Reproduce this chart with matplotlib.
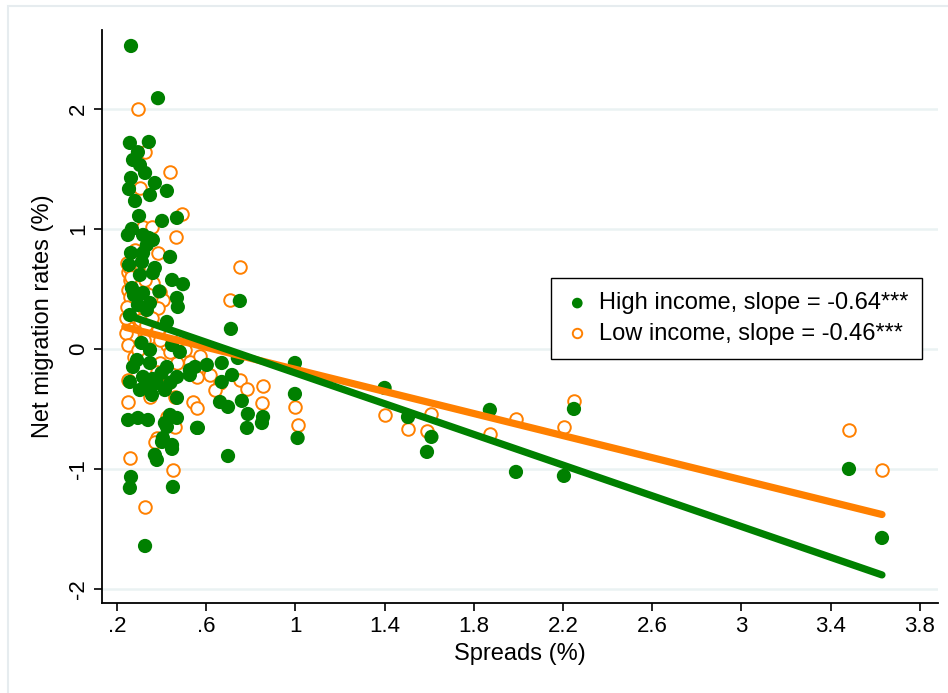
import matplotlib
matplotlib.use("Agg")
from matplotlib import pyplot as plt
from matplotlib.patches import Rectangle

plt.rcParams["font.family"] = ["Liberation Sans", "DejaVu Sans"]

# spreads (%) and net migration rates (%) for high income countries
high_x = [0.263, 0.384, 0.258, 0.343, 0.294, 0.272, 0.303, 0.326, 0.263, 0.370,
          0.254, 0.348, 0.424, 0.281, 0.299, 0.402, 0.469, 0.267, 0.249, 0.343,
          0.317, 0.361, 0.334, 0.263, 0.317, 0.438, 0.312, 0.370, 0.303, 0.361,
          0.447, 0.496, 0.267, 0.317, 0.469, 0.348, 0.294, 0.473, 0.334, 0.424,
          0.258, 0.751, 0.711, 0.348, 0.447, 0.482, 0.290, 0.272, 0.348, 0.424,
          0.527, 0.258, 0.317, 0.379, 0.469, 0.303, 0.357, 0.415, 0.469, 0.250,
          0.294, 0.339, 0.438, 0.424, 0.406, 0.563, 0.447, 0.402, 0.370, 0.379,
          0.447, 0.263, 0.258, 0.451, 0.326, 0.670, 0.603, 0.550, 0.527, 0.716,
          0.670, 0.742, 0.662, 0.698, 0.760, 0.787, 0.855, 0.850, 0.783, 0.559,
          0.469, 0.415, 0.698, 0.998, 0.998, 1.010, 1.400, 1.505, 1.610, 1.590,
          1.872, 1.989, 2.204, 2.249, 3.482, 3.630, 0.254, 0.276, 0.400, 0.360,
          0.330, 0.310, 0.440, 0.390]
high_y = [2.525, 2.090, 1.717, 1.725, 1.640, 1.575, 1.533, 1.467, 1.425, 1.383,
          1.333, 1.283, 1.317, 1.233, 1.108, 1.067, 1.092, 1.000, 0.950, 0.925,
          0.950, 0.908, 0.867, 0.800, 0.800, 0.767, 0.725, 0.675, 0.617, 0.633,
          0.575, 0.540, 0.508, 0.467, 0.425, 0.383, 0.367, 0.350, 0.325, 0.225,
          0.283, 0.400, 0.167, -0.008, 0.033, -0.025, -0.092, -0.150, -0.117, -0.150,
          -0.175, -0.275, -0.233, -0.283, -0.233, -0.342, -0.383, -0.342, -0.408, -0.592,
          -0.575, -0.592, -0.550, -0.650, -0.742, -0.658, -0.800, -0.775, -0.883, -0.925,
          -0.833, -1.067, -1.158, -1.150, -1.642, -0.117, -0.133, -0.150, -0.217, -0.217,
          -0.275, -0.075, -0.442, -0.483, -0.433, -0.542, -0.567, -0.617, -0.658, -0.658,
          -0.575, -0.617, -0.892, -0.117, -0.375, -0.742, -0.325, -0.567, -0.733, -0.858,
          -0.508, -1.025, -1.058, -0.500, -1.000, -1.575, 0.700, 0.450, -0.200, -0.250,
          -0.300, 0.050, -0.280, 0.480]

# spreads (%) and net migration rates (%) for low income countries
low_x = [0.294, 0.326, 0.438, 0.303, 0.491, 0.317, 0.357, 0.465, 0.384, 0.245,
         0.249, 0.258, 0.361, 0.249, 0.393, 0.406, 0.384, 0.258, 0.245, 0.249,
         0.290, 0.267, 0.348, 0.424, 0.276, 0.393, 0.469, 0.527, 0.563, 0.379,
         0.559, 0.428, 0.348, 0.460, 0.249, 0.540, 0.559, 0.424, 0.460, 0.379,
         0.370, 0.258, 0.451, 0.326, 0.751, 0.707, 0.751, 0.783, 0.855, 0.662,
         0.850, 0.998, 1.010, 1.400, 1.505, 1.610, 1.590, 1.872, 1.989, 2.204,
         2.249, 3.482, 3.630, 0.240, 0.276, 0.303, 0.330, 0.357, 0.384, 0.240,
         0.321, 0.393, 0.249, 0.294, 0.438, 0.326, 0.281, 0.294, 0.438, 0.504,
         0.572, 0.617, 0.640, 0.249, 0.255, 0.265]
low_y = [2.000, 1.642, 1.475, 1.342, 1.125, 1.017, 1.017, 0.933, 0.800, 0.717,
         0.642, 0.575, 0.550, 0.492, 0.475, 0.408, 0.342, 0.433, 0.350, 0.183,
         0.158, 0.117, 0.100, 0.033, -0.067, -0.117, -0.117, -0.108, -0.150, -0.192,
         -0.233, -0.283, -0.400, -0.400, -0.442, -0.442, -0.492, -0.567, -0.650, -0.742,
         -0.775, -0.908, -1.008, -1.317, 0.683, 0.408, -0.258, -0.333, -0.308, -0.283,
         -0.450, -0.483, -0.633, -0.550, -0.667, -0.542, -0.683, -0.708, -0.583, -0.650,
         -0.433, -0.675, -1.008, 0.258, 0.275, 0.242, 0.200, 0.258, 0.158, 0.133,
         0.075, 0.075, 0.033, -0.008, 0.117, 0.575, 0.825, 0.675, -0.025, -0.008,
         -0.058, -0.217, -0.342, -0.258, 0.680, 0.600]

# fitted lines
high_slope, high_const = -0.64, 0.44
low_slope, low_const = -0.46, 0.29

x_ticks = [0.2, 0.6, 1.0, 1.4, 1.8, 2.2, 2.6, 3.0, 3.4, 3.8]
x_labels = [".2", ".6", "1", "1.4", "1.8", "2.2", "2.6", "3", "3.4", "3.8"]
y_ticks = [-2, -1, 0, 1, 2]

green = "#008000"
orange = "#FF8000"

fig = plt.figure(figsize=(9.48, 6.93), dpi=100)
fig.patches.append(Rectangle((8 / 948, -0.1), 1.2, 1.1 - 6 / 693, transform=fig.transFigure,
                             fill=False, edgecolor="#E6ECEF", linewidth=1.5))
ax = fig.add_axes([0.1076, 0.1299, 0.8818, 0.8268])

ax.scatter(low_x, low_y, s=82, facecolors="white", edgecolors=orange,
           linewidths=1.4, zorder=2, label="Low income, slope = -0.46***")
ax.scatter(high_x, high_y, s=105, color=green, edgecolors="none", zorder=3,
           label="High income, slope = -0.64***")

lx = [min(low_x), max(low_x)]
hx = [min(high_x), max(high_x)]
ax.plot(lx, [low_const + low_slope * v for v in lx], color=orange, lw=5.2,
        solid_capstyle="round", zorder=4)
ax.plot(hx, [high_const + high_slope * v for v in hx], color=green, lw=5.2,
        solid_capstyle="round", zorder=5)

ax.set_xlim(0.133, 3.881)
ax.set_ylim(-2.117, 2.658)
ax.set_xticks(x_ticks)
ax.set_xticklabels(x_labels)
ax.set_yticks(y_ticks)
ax.set_yticklabels([str(v) for v in y_ticks], rotation=90, va="center")
ax.tick_params(labelsize=16, length=6, width=1.2, color="black")
ax.yaxis.grid(True, color="#EAF2F3", linewidth=1.8)
ax.set_axisbelow(True)
for side in ["top", "right"]:
    ax.spines[side].set_visible(False)
for side in ["left", "bottom"]:
    ax.spines[side].set_linewidth(1.3)

ax.set_xlabel("Spreads (%)", fontsize=17, labelpad=4)
ax.set_ylabel("Net migration rates (%)", fontsize=17, labelpad=10)

handles, labels = ax.get_legend_handles_labels()
leg = ax.legend(handles[::-1], labels[::-1], loc="upper right",
                bbox_to_anchor=(0.981, 0.567), fontsize=17, frameon=True,
                fancybox=False, edgecolor="black", framealpha=1,
                handletextpad=0.4, borderpad=0.6, labelspacing=0.35,
                markerscale=0.75, handlelength=1.0, borderaxespad=0)
leg.get_frame().set_linewidth(1.0)

plt.savefig("out.png", format="png", dpi=100)
